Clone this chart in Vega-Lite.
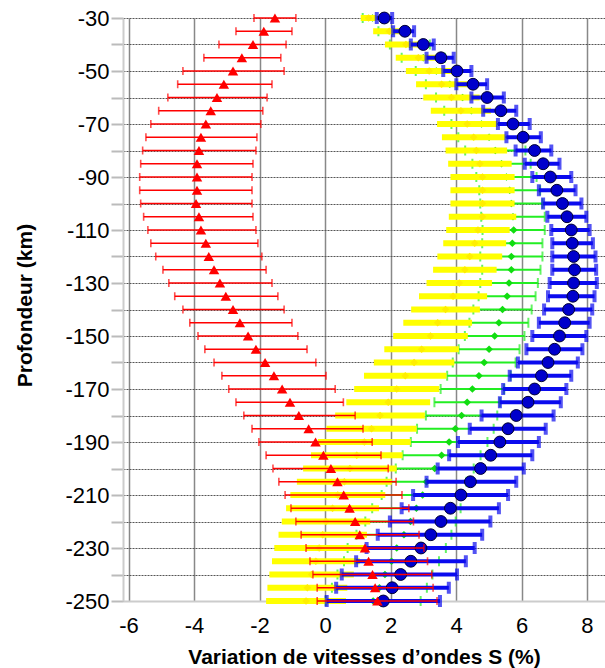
{
  "$schema": "https://vega.github.io/schema/vega-lite/v6.json",
  "autosize": "none",
  "width": 482,
  "height": 583,
  "padding": {"left": 123, "top": 18, "right": 0, "bottom": 67},
  "background": "white",
  "config": {"view": {"stroke": null}, "font": "Liberation Sans"},
  "datasets": {
    "red": [
      {"d": -30, "v": -1.53, "lo": -2.17, "hi": -0.89},
      {"d": -35, "v": -1.87, "lo": -2.72, "hi": -1.01},
      {"d": -40, "v": -2.20, "lo": -3.24, "hi": -1.19},
      {"d": -45, "v": -2.54, "lo": -3.70, "hi": -1.35},
      {"d": -50, "v": -2.81, "lo": -4.34, "hi": -1.25},
      {"d": -55, "v": -3.09, "lo": -4.50, "hi": -1.62},
      {"d": -60, "v": -3.30, "lo": -4.80, "hi": -1.77},
      {"d": -65, "v": -3.49, "lo": -5.08, "hi": -1.90},
      {"d": -70, "v": -3.64, "lo": -5.32, "hi": -1.96},
      {"d": -75, "v": -3.79, "lo": -5.47, "hi": -2.08},
      {"d": -80, "v": -3.85, "lo": -5.57, "hi": -2.11},
      {"d": -85, "v": -3.91, "lo": -5.63, "hi": -2.20},
      {"d": -90, "v": -3.91, "lo": -5.66, "hi": -2.23},
      {"d": -95, "v": -3.91, "lo": -5.66, "hi": -2.23},
      {"d": -100, "v": -3.94, "lo": -5.63, "hi": -2.23},
      {"d": -105, "v": -3.85, "lo": -5.54, "hi": -2.20},
      {"d": -110, "v": -3.79, "lo": -5.41, "hi": -2.11},
      {"d": -115, "v": -3.64, "lo": -5.32, "hi": -2.05},
      {"d": -120, "v": -3.55, "lo": -5.17, "hi": -1.93},
      {"d": -125, "v": -3.39, "lo": -4.95, "hi": -1.80},
      {"d": -130, "v": -3.21, "lo": -4.77, "hi": -1.62},
      {"d": -135, "v": -3.03, "lo": -4.59, "hi": -1.44},
      {"d": -140, "v": -2.81, "lo": -4.34, "hi": -1.25},
      {"d": -145, "v": -2.60, "lo": -4.13, "hi": -1.01},
      {"d": -150, "v": -2.35, "lo": -3.88, "hi": -0.83},
      {"d": -155, "v": -2.11, "lo": -3.67, "hi": -0.55},
      {"d": -160, "v": -1.83, "lo": -3.39, "hi": -0.28},
      {"d": -165, "v": -1.56, "lo": -3.15, "hi": 0.03},
      {"d": -170, "v": -1.31, "lo": -2.94, "hi": 0.31},
      {"d": -175, "v": -1.07, "lo": -2.72, "hi": 0.56},
      {"d": -180, "v": -0.80, "lo": -2.48, "hi": 0.92},
      {"d": -185, "v": -0.50, "lo": -2.23, "hi": 1.16},
      {"d": -190, "v": -0.29, "lo": -2.02, "hi": 1.44},
      {"d": -195, "v": -0.05, "lo": -1.80, "hi": 1.71},
      {"d": -200, "v": 0.18, "lo": -1.59, "hi": 1.93},
      {"d": -205, "v": 0.38, "lo": -1.41, "hi": 2.17},
      {"d": -210, "v": 0.57, "lo": -1.22, "hi": 2.35},
      {"d": -215, "v": 0.75, "lo": -1.04, "hi": 2.56},
      {"d": -220, "v": 0.92, "lo": -0.89, "hi": 2.70},
      {"d": -225, "v": 1.06, "lo": -0.73, "hi": 2.87},
      {"d": -230, "v": 1.22, "lo": -0.58, "hi": 3.02},
      {"d": -235, "v": 1.33, "lo": -0.46, "hi": 3.13},
      {"d": -240, "v": 1.45, "lo": -0.37, "hi": 3.26},
      {"d": -245, "v": 1.53, "lo": -0.24, "hi": 3.30},
      {"d": -250, "v": 1.60, "lo": -0.24, "hi": 3.42}
    ],
    "yellow": [
      {"d": -30, "v": 1.33, "lo": 1.09, "hi": 1.58},
      {"d": -35, "v": 1.96, "lo": 1.47, "hi": 2.45},
      {"d": -40, "v": 2.47, "lo": 1.83, "hi": 3.11},
      {"d": -45, "v": 2.85, "lo": 2.16, "hi": 3.54},
      {"d": -50, "v": 3.18, "lo": 2.47, "hi": 3.89},
      {"d": -55, "v": 3.56, "lo": 2.78, "hi": 4.34},
      {"d": -60, "v": 3.86, "lo": 3.00, "hi": 4.72},
      {"d": -65, "v": 4.15, "lo": 3.23, "hi": 5.07},
      {"d": -70, "v": 4.34, "lo": 3.42, "hi": 5.26},
      {"d": -75, "v": 4.54, "lo": 3.57, "hi": 5.51},
      {"d": -80, "v": 4.62, "lo": 3.68, "hi": 5.56},
      {"d": -85, "v": 4.73, "lo": 3.76, "hi": 5.70},
      {"d": -90, "v": 4.81, "lo": 3.83, "hi": 5.79},
      {"d": -95, "v": 4.81, "lo": 3.83, "hi": 5.79},
      {"d": -100, "v": 4.81, "lo": 3.83, "hi": 5.79},
      {"d": -105, "v": 4.81, "lo": 3.78, "hi": 5.84},
      {"d": -110, "v": 4.67, "lo": 3.70, "hi": 5.64},
      {"d": -115, "v": 4.57, "lo": 3.61, "hi": 5.53},
      {"d": -120, "v": 4.42, "lo": 3.43, "hi": 5.41},
      {"d": -125, "v": 4.27, "lo": 3.30, "hi": 5.24},
      {"d": -130, "v": 4.10, "lo": 3.10, "hi": 5.10},
      {"d": -135, "v": 3.91, "lo": 2.87, "hi": 4.95},
      {"d": -140, "v": 3.68, "lo": 2.63, "hi": 4.73},
      {"d": -145, "v": 3.44, "lo": 2.39, "hi": 4.49},
      {"d": -150, "v": 3.22, "lo": 2.08, "hi": 4.36},
      {"d": -155, "v": 2.95, "lo": 1.81, "hi": 4.09},
      {"d": -160, "v": 2.72, "lo": 1.49, "hi": 3.95},
      {"d": -165, "v": 2.45, "lo": 1.19, "hi": 3.71},
      {"d": -170, "v": 2.19, "lo": 0.89, "hi": 3.49},
      {"d": -175, "v": 1.93, "lo": 0.65, "hi": 3.21},
      {"d": -180, "v": 1.68, "lo": 0.31, "hi": 3.05},
      {"d": -185, "v": 1.42, "lo": 0.04, "hi": 2.80},
      {"d": -190, "v": 1.20, "lo": -0.22, "hi": 2.62},
      {"d": -195, "v": 0.97, "lo": -0.43, "hi": 2.37},
      {"d": -200, "v": 0.76, "lo": -0.67, "hi": 2.19},
      {"d": -205, "v": 0.59, "lo": -0.86, "hi": 2.04},
      {"d": -210, "v": 0.39, "lo": -1.06, "hi": 1.84},
      {"d": -215, "v": 0.23, "lo": -1.19, "hi": 1.65},
      {"d": -220, "v": 0.03, "lo": -1.32, "hi": 1.38},
      {"d": -225, "v": -0.07, "lo": -1.42, "hi": 1.28},
      {"d": -230, "v": -0.18, "lo": -1.55, "hi": 1.19},
      {"d": -235, "v": -0.28, "lo": -1.62, "hi": 1.06},
      {"d": -240, "v": -0.41, "lo": -1.70, "hi": 0.88},
      {"d": -245, "v": -0.54, "lo": -1.76, "hi": 0.68},
      {"d": -250, "v": -0.58, "lo": -1.80, "hi": 0.64}
    ],
    "green": [
      {"d": -30, "v": 1.45, "lo": 1.15, "hi": 1.75},
      {"d": -35, "v": 2.07, "lo": 1.63, "hi": 2.51},
      {"d": -40, "v": 2.59, "lo": 1.98, "hi": 3.20},
      {"d": -45, "v": 3.00, "lo": 2.34, "hi": 3.66},
      {"d": -50, "v": 3.40, "lo": 2.77, "hi": 4.03},
      {"d": -55, "v": 3.81, "lo": 3.08, "hi": 4.54},
      {"d": -60, "v": 4.20, "lo": 3.39, "hi": 5.01},
      {"d": -65, "v": 4.47, "lo": 3.64, "hi": 5.30},
      {"d": -70, "v": 4.78, "lo": 3.86, "hi": 5.70},
      {"d": -75, "v": 5.01, "lo": 4.07, "hi": 5.95},
      {"d": -80, "v": 5.20, "lo": 4.28, "hi": 6.12},
      {"d": -85, "v": 5.39, "lo": 4.50, "hi": 6.28},
      {"d": -90, "v": 5.54, "lo": 4.62, "hi": 6.46},
      {"d": -95, "v": 5.64, "lo": 4.71, "hi": 6.57},
      {"d": -100, "v": 5.69, "lo": 4.74, "hi": 6.64},
      {"d": -105, "v": 5.74, "lo": 4.77, "hi": 6.71},
      {"d": -110, "v": 5.76, "lo": 4.81, "hi": 6.71},
      {"d": -115, "v": 5.72, "lo": 4.80, "hi": 6.64},
      {"d": -120, "v": 5.69, "lo": 4.74, "hi": 6.64},
      {"d": -125, "v": 5.69, "lo": 4.80, "hi": 6.58},
      {"d": -130, "v": 5.62, "lo": 4.74, "hi": 6.50},
      {"d": -135, "v": 5.56, "lo": 4.69, "hi": 6.43},
      {"d": -140, "v": 5.42, "lo": 4.53, "hi": 6.31},
      {"d": -145, "v": 5.31, "lo": 4.41, "hi": 6.21},
      {"d": -150, "v": 5.18, "lo": 4.27, "hi": 6.09},
      {"d": -155, "v": 5.01, "lo": 4.08, "hi": 5.94},
      {"d": -160, "v": 4.86, "lo": 3.90, "hi": 5.82},
      {"d": -165, "v": 4.70, "lo": 3.73, "hi": 5.67},
      {"d": -170, "v": 4.50, "lo": 3.53, "hi": 5.47},
      {"d": -175, "v": 4.34, "lo": 3.34, "hi": 5.34},
      {"d": -180, "v": 4.17, "lo": 3.08, "hi": 5.26},
      {"d": -185, "v": 3.98, "lo": 2.81, "hi": 5.15},
      {"d": -190, "v": 3.79, "lo": 2.62, "hi": 4.96},
      {"d": -195, "v": 3.56, "lo": 2.37, "hi": 4.75},
      {"d": -200, "v": 3.35, "lo": 2.16, "hi": 4.54},
      {"d": -205, "v": 3.10, "lo": 1.88, "hi": 4.32},
      {"d": -210, "v": 2.98, "lo": 1.73, "hi": 4.23},
      {"d": -215, "v": 2.79, "lo": 1.44, "hi": 4.14},
      {"d": -220, "v": 2.61, "lo": 1.23, "hi": 3.99},
      {"d": -225, "v": 2.41, "lo": 0.96, "hi": 3.86},
      {"d": -230, "v": 2.19, "lo": 0.69, "hi": 3.69},
      {"d": -235, "v": 2.03, "lo": 0.58, "hi": 3.48},
      {"d": -240, "v": 1.83, "lo": 0.38, "hi": 3.28},
      {"d": -245, "v": 1.66, "lo": 0.21, "hi": 3.11},
      {"d": -250, "v": 1.47, "lo": 0.02, "hi": 2.92}
    ],
    "blue": [
      {"d": -30, "v": 1.81, "lo": 1.58, "hi": 2.05},
      {"d": -35, "v": 2.44, "lo": 2.08, "hi": 2.72},
      {"d": -40, "v": 3.00, "lo": 2.62, "hi": 3.32},
      {"d": -45, "v": 3.54, "lo": 3.10, "hi": 3.93},
      {"d": -50, "v": 4.03, "lo": 3.61, "hi": 4.47},
      {"d": -55, "v": 4.52, "lo": 4.01, "hi": 4.95},
      {"d": -60, "v": 4.95, "lo": 4.47, "hi": 5.46},
      {"d": -65, "v": 5.37, "lo": 4.83, "hi": 5.84},
      {"d": -70, "v": 5.74, "lo": 5.28, "hi": 6.25},
      {"d": -75, "v": 6.05, "lo": 5.54, "hi": 6.59},
      {"d": -80, "v": 6.40, "lo": 5.82, "hi": 6.91},
      {"d": -85, "v": 6.66, "lo": 6.10, "hi": 7.16},
      {"d": -90, "v": 6.88, "lo": 6.33, "hi": 7.52},
      {"d": -95, "v": 7.08, "lo": 6.53, "hi": 7.65},
      {"d": -100, "v": 7.25, "lo": 6.66, "hi": 7.83},
      {"d": -105, "v": 7.39, "lo": 6.79, "hi": 7.98},
      {"d": -110, "v": 7.52, "lo": 6.91, "hi": 8.08},
      {"d": -115, "v": 7.55, "lo": 6.94, "hi": 8.18},
      {"d": -120, "v": 7.59, "lo": 6.94, "hi": 8.26},
      {"d": -125, "v": 7.62, "lo": 6.94, "hi": 8.28},
      {"d": -130, "v": 7.59, "lo": 6.86, "hi": 8.30},
      {"d": -135, "v": 7.57, "lo": 6.81, "hi": 8.23},
      {"d": -140, "v": 7.44, "lo": 6.69, "hi": 8.16},
      {"d": -145, "v": 7.32, "lo": 6.53, "hi": 8.08},
      {"d": -150, "v": 7.16, "lo": 6.33, "hi": 7.98},
      {"d": -155, "v": 7.01, "lo": 6.15, "hi": 7.86},
      {"d": -160, "v": 6.81, "lo": 5.89, "hi": 7.72},
      {"d": -165, "v": 6.61, "lo": 5.64, "hi": 7.52},
      {"d": -170, "v": 6.40, "lo": 5.44, "hi": 7.37},
      {"d": -175, "v": 6.20, "lo": 5.34, "hi": 7.20},
      {"d": -180, "v": 5.84, "lo": 4.78, "hi": 6.98},
      {"d": -185, "v": 5.59, "lo": 4.42, "hi": 6.74},
      {"d": -190, "v": 5.34, "lo": 4.06, "hi": 6.53},
      {"d": -195, "v": 5.06, "lo": 3.79, "hi": 6.33},
      {"d": -200, "v": 4.75, "lo": 3.44, "hi": 6.07},
      {"d": -205, "v": 4.44, "lo": 3.10, "hi": 5.84},
      {"d": -210, "v": 4.15, "lo": 2.69, "hi": 5.59},
      {"d": -215, "v": 3.83, "lo": 2.34, "hi": 5.31},
      {"d": -220, "v": 3.54, "lo": 1.98, "hi": 5.05},
      {"d": -225, "v": 3.23, "lo": 1.61, "hi": 4.80},
      {"d": -230, "v": 2.93, "lo": 1.27, "hi": 4.57},
      {"d": -235, "v": 2.62, "lo": 0.95, "hi": 4.30},
      {"d": -240, "v": 2.31, "lo": 0.51, "hi": 4.03},
      {"d": -245, "v": 2.05, "lo": 0.34, "hi": 3.78},
      {"d": -250, "v": 1.78, "lo": 0.05, "hi": 3.51}
    ]
  },
  "encoding": {
    "y": {
      "field": "d", "type": "quantitative",
      "scale": {"domain": [-250, -30], "nice": false, "zero": false},
      "axis": {
        "title": "Profondeur (km)",
        "titleFont": "Liberation Sans", "titleFontSize": 21, "titleFontWeight": "bold", "titleColor": "#000",
        "titleX": -98, "titleY": 287, "titleAngle": -90, "titleAlign": "center", "titleBaseline": "middle",
        "values": [-30, -40, -50, -60, -70, -80, -90, -100, -110, -120, -130, -140, -150, -160, -170, -180, -190, -200, -210, -220, -230, -240, -250],
        "labelExpr": "(datum.value + 30) % 20 == 0 ? '' + datum.value : ''",
        "labelFont": "Liberation Sans", "labelFontSize": 22, "labelColor": "#000", "labelPadding": 2,
        "tickSize": 12, "tickColor": "#bbb", "tickWidth": 2,
        "domainColor": "#ccc", "domainWidth": 2,
        "grid": true, "gridColor": "#555", "gridDash": [2, 1], "gridWidth": 1
      }
    }
  },
  "layer": [
    {
      "data": {"name": "green"},
      "mark": {"type": "rule", "color": "#22ee22", "strokeWidth": 2},
      "encoding": {
        "x": {"field": "lo", "type": "quantitative",
          "scale": {"domain": [-6.17, 8.55], "nice": false, "zero": false},
          "axis": {
            "title": "Variation de vitesses d’ondes S (%)",
            "titleFont": "Liberation Sans", "titleFontSize": 21, "titleFontWeight": "bold", "titleColor": "#000",
            "titleY": 56, "titleBaseline": "middle",
            "values": [-6, -4, -2, 0, 2, 4, 6, 8],
            "labelExpr": "'' + datum.value",
            "labelFont": "Liberation Sans", "labelFontSize": 22, "labelColor": "#000", "labelPadding": 14,
            "ticks": false, "domainColor": "#ccc", "domainWidth": 2,
            "grid": true, "gridColor": "#888", "gridWidth": 1.5
          }
        },
        "x2": {"field": "hi"}
      }
    },
    {
      "data": {"name": "green"},
      "mark": {"type": "tick", "orient": "vertical", "color": "#22ee22", "size": 10, "thickness": 2},
      "encoding": {"x": {"field": "lo", "type": "quantitative"}}
    },
    {
      "data": {"name": "green"},
      "mark": {"type": "tick", "orient": "vertical", "color": "#22ee22", "size": 10, "thickness": 2},
      "encoding": {"x": {"field": "hi", "type": "quantitative"}}
    },
    {
      "data": {"name": "green"},
      "mark": {"type": "point", "shape": "diamond", "filled": true, "color": "#11dd11", "size": 60, "opacity": 1},
      "encoding": {"x": {"field": "v", "type": "quantitative"}}
    },
    {
      "data": {"name": "yellow"},
      "mark": {"type": "rule", "color": "#ffff00", "strokeWidth": 6},
      "encoding": {"x": {"field": "lo", "type": "quantitative"}, "x2": {"field": "hi"}}
    },
    {
      "data": {"name": "yellow"},
      "mark": {"type": "point", "shape": "diamond", "filled": true, "color": "#ffee00", "size": 60, "opacity": 1},
      "encoding": {"x": {"field": "v", "type": "quantitative"}}
    },
    {
      "data": {"name": "blue"},
      "mark": {"type": "rule", "color": "#0a0aee", "strokeWidth": 4},
      "encoding": {"x": {"field": "lo", "type": "quantitative"}, "x2": {"field": "hi"}}
    },
    {
      "data": {"name": "blue"},
      "mark": {"type": "tick", "orient": "vertical", "color": "#0a0aee", "size": 12, "thickness": 4},
      "encoding": {"x": {"field": "lo", "type": "quantitative"}}
    },
    {
      "data": {"name": "blue"},
      "mark": {"type": "tick", "orient": "vertical", "color": "#0a0aee", "size": 12, "thickness": 4},
      "encoding": {"x": {"field": "hi", "type": "quantitative"}}
    },
    {
      "data": {"name": "blue"},
      "mark": {"type": "point", "shape": "circle", "filled": true, "color": "#0000cc", "stroke": "#000033", "strokeWidth": 1, "size": 140, "opacity": 1},
      "encoding": {"x": {"field": "v", "type": "quantitative"}}
    },
    {
      "data": {"name": "red"},
      "mark": {"type": "rule", "color": "#ff0000", "strokeWidth": 1.6},
      "encoding": {"x": {"field": "lo", "type": "quantitative"}, "x2": {"field": "hi"}}
    },
    {
      "data": {"name": "red"},
      "mark": {"type": "tick", "orient": "vertical", "color": "#ff0000", "size": 8, "thickness": 1.6},
      "encoding": {"x": {"field": "lo", "type": "quantitative"}}
    },
    {
      "data": {"name": "red"},
      "mark": {"type": "tick", "orient": "vertical", "color": "#ff0000", "size": 8, "thickness": 1.6},
      "encoding": {"x": {"field": "hi", "type": "quantitative"}}
    },
    {
      "data": {"name": "red"},
      "mark": {"type": "point", "shape": "triangle-up", "filled": true, "color": "#ff0000", "size": 110, "opacity": 1},
      "encoding": {"x": {"field": "v", "type": "quantitative"}}
    }
  ]
}
